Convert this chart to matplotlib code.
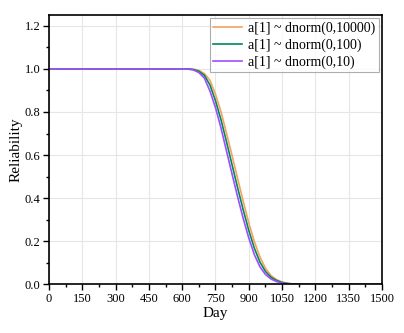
import matplotlib
matplotlib.use("Agg")
import matplotlib.pyplot as plt
from matplotlib.ticker import MultipleLocator, FormatStrFormatter

days = [0, 600, 625, 650, 675, 700, 725, 750, 775, 800, 825, 850, 875, 900,
        925, 950, 975, 1000, 1025, 1050, 1075, 1100, 1125, 1150, 1500]
r_10000 = [1.0, 1.0, 1.0, 0.999, 0.993, 0.978, 0.947, 0.882, 0.80, 0.70, 0.596,
           0.49, 0.385, 0.285, 0.198, 0.128, 0.075, 0.041, 0.022, 0.011, 0.0052,
           0.002, 0.0008, 0.0002, 0.0]
r_100 = [1.0, 1.0, 1.0, 0.997, 0.989, 0.970, 0.925, 0.852, 0.763, 0.66, 0.553,
         0.447, 0.345, 0.25, 0.168, 0.104, 0.06, 0.033, 0.018, 0.0088, 0.004,
         0.0016, 0.0006, 0.0001, 0.0]
r_10 = [1.0, 1.0, 0.999, 0.995, 0.983, 0.957, 0.897, 0.82, 0.725, 0.617, 0.51,
        0.405, 0.305, 0.215, 0.138, 0.082, 0.046, 0.025, 0.013, 0.006, 0.0025,
        0.001, 0.0003, 0.0, 0.0]
labels = ["a[1] ~ dnorm(0,10000)", "a[1] ~ dnorm(0,100)", "a[1] ~ dnorm(0,10)"]
colors = ["#F5A25E", "#00885A", "#9D4EFF"]

plt.rcParams['font.family'] = ['Liberation Serif', 'DejaVu Serif']

fig = plt.figure(figsize=(4.04, 3.33), dpi=100)
ax = fig.add_axes([0.1213, 0.146, 0.8242, 0.809])

for vals, lab, c in zip([r_10000, r_100, r_10], labels, colors):
    ax.plot(days, vals, color=c, lw=1.2, label=lab)

ax.set_xlim(0, 1500)
ax.set_ylim(0, 1.25)
ax.xaxis.set_major_locator(MultipleLocator(150))
ax.xaxis.set_minor_locator(MultipleLocator(75))
ax.yaxis.set_major_locator(MultipleLocator(0.2))
ax.yaxis.set_minor_locator(MultipleLocator(0.1))
ax.yaxis.set_major_formatter(FormatStrFormatter('%.1f'))
ax.grid(True, which='major', color='#e6e6e6', lw=0.8)
ax.set_axisbelow(True)
ax.tick_params(which='major', direction='out', length=4, width=1, labelsize=9, colors='black', pad=2)
ax.tick_params(which='minor', direction='out', length=2, width=1)
for s in ax.spines.values():
    s.set_linewidth(1.2)
ax.set_xlabel("Day", fontsize=11, labelpad=2)
ax.set_ylabel("Reliability", fontsize=11, labelpad=2)

leg = ax.legend(loc='upper right', fontsize=10, frameon=True, fancybox=False,
                edgecolor='#999999', borderpad=0.25, labelspacing=0.25,
                handlelength=2.1, handletextpad=0.45, borderaxespad=0.2)
leg.get_frame().set_linewidth(0.8)

fig.savefig("out.png", dpi=100)
